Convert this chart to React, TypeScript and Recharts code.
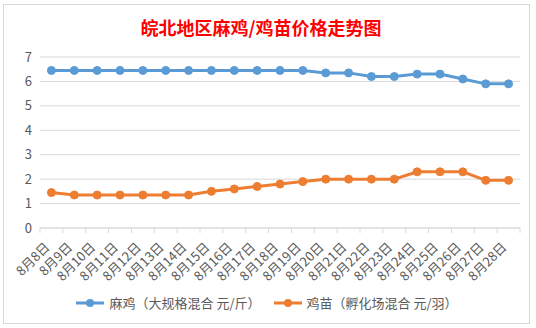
import React from "react";
import {
  LineChart,
  Line,
  XAxis,
  YAxis,
  CartesianGrid,
  Legend,
} from "recharts";

// 日期
const dates = [
  "8月8日", "8月9日", "8月10日", "8月11日", "8月12日", "8月13日", "8月14日",
  "8月15日", "8月16日", "8月17日", "8月18日", "8月19日", "8月20日", "8月21日",
  "8月22日", "8月23日", "8月24日", "8月25日", "8月26日", "8月27日", "8月28日",
];

// 麻鸡 元/斤
const majiPrices = [
  6.45, 6.45, 6.45, 6.45, 6.45, 6.45, 6.45, 6.45, 6.45, 6.45, 6.45, 6.45,
  6.35, 6.35, 6.2, 6.2, 6.3, 6.3, 6.1, 5.9, 5.9,
];

// 鸡苗 元/羽
const jimiaoPrices = [
  1.45, 1.35, 1.35, 1.35, 1.35, 1.35, 1.35, 1.5, 1.6, 1.7, 1.8, 1.9,
  2.0, 2.0, 2.0, 2.0, 2.3, 2.3, 2.3, 1.95, 1.95,
];

const yTicks = [0, 1, 2, 3, 4, 5, 6, 7];

const seriesNames = ["麻鸡（大规格混合 元/斤）", "鸡苗（孵化场混合 元/羽）"];
const seriesColors = ["#5b9bd5", "#ed7d31"];

const data = dates.map((d, i) => ({
  date: d,
  maji: majiPrices[i],
  jimiao: jimiaoPrices[i],
}));

const W = 527;
const H = 320;
const margin = { top: 53, right: 10, left: 0, bottom: 36 };
const yAxisWidth = 37;
const band = (W - margin.right - yAxisWidth) / dates.length;

const FONT = "'Noto Sans CJK SC', 'Noto Sans', sans-serif";
const textColor = "#595959";
const gridColor = "#d9d9d9";

const DateTick = (props: any) => {
  const { x, y, payload, index } = props;
  const isLast = index === dates.length - 1;
  return (
    <g>
      <line x1={x - band / 2} x2={x - band / 2} y1={y - 8} y2={y - 3} stroke={gridColor} />
      {isLast && (
        <line x1={x + band / 2} x2={x + band / 2} y1={y - 8} y2={y - 3} stroke={gridColor} />
      )}
      <text
        x={0}
        y={0}
        transform={`translate(${x - 1},${y + 12}) rotate(-45)`}
        textAnchor="end"
        fontSize={13}
        fill={textColor}
        fontFamily={FONT}
      >
        {payload.value}
      </text>
    </g>
  );
};

const LegendContent = () => (
  <div
    style={{
      display: "flex",
      justifyContent: "center",
      alignItems: "center",
      fontFamily: FONT,
      fontSize: 13,
      color: textColor,
    }}
  >
    {seriesNames.map((name, i) => (
      <div key={name} style={{ display: "flex", alignItems: "center", marginRight: i === 0 ? 12 : 0 }}>
        <svg width={30} height={12} style={{ marginRight: 4 }}>
          <line x1={1} x2={29} y1={6} y2={6} stroke={seriesColors[i]} strokeWidth={3} />
          <circle cx={15} cy={6} r={4} fill={seriesColors[i]} />
        </svg>
        <span>{name}</span>
      </div>
    ))}
  </div>
);

export default function App() {
  return (
    <div style={{ position: "absolute", left: 0, top: 0, width: 536, height: 328, background: "#fff" }}>
      <div
        style={{
          position: "absolute",
          left: 3,
          top: 4,
          width: W,
          height: H,
          border: `1px solid ${gridColor}`,
          boxSizing: "border-box",
        }}
      />
      <div
        style={{
          position: "absolute",
          left: 0,
          top: 14,
          width: 522,
          textAlign: "center",
          color: "#ff0000",
          fontWeight: "bold",
          fontSize: 18,
          fontFamily: FONT,
          lineHeight: "26px",
        }}
      >
        皖北地区麻鸡/鸡苗价格走势图
      </div>
      <div style={{ position: "absolute", left: 3, top: 4 }}>
        <LineChart width={W} height={H} data={data} margin={margin}>
          <CartesianGrid vertical={false} stroke={gridColor} />
          <XAxis
            dataKey="date"
            interval={0}
            height={60}
            padding={{ left: band / 2, right: band / 2 }}
            tickLine={false}
            axisLine={{ stroke: gridColor }}
            tick={<DateTick />}
          />
          <YAxis
            width={yAxisWidth}
            domain={[0, 7]}
            ticks={yTicks}
            axisLine={false}
            tickLine={false}
            tickSize={0}
            tickMargin={8}
            tick={{ fill: textColor, fontSize: 13, fontFamily: FONT }}
          />
          <Legend
            verticalAlign="middle"
            align="center"
            layout="horizontal"
            content={<LegendContent />}
            wrapperStyle={{ top: 289, left: 0, width: W }}
          />
          <Line
            dataKey="maji"
            name={seriesNames[0]}
            stroke={seriesColors[0]}
            strokeWidth={3}
            dot={{ r: 4, fill: seriesColors[0], stroke: seriesColors[0], strokeWidth: 1 }}
            isAnimationActive={false}
          />
          <Line
            dataKey="jimiao"
            name={seriesNames[1]}
            stroke={seriesColors[1]}
            strokeWidth={3}
            dot={{ r: 4, fill: seriesColors[1], stroke: seriesColors[1], strokeWidth: 1 }}
            isAnimationActive={false}
          />
        </LineChart>
      </div>
    </div>
  );
}
